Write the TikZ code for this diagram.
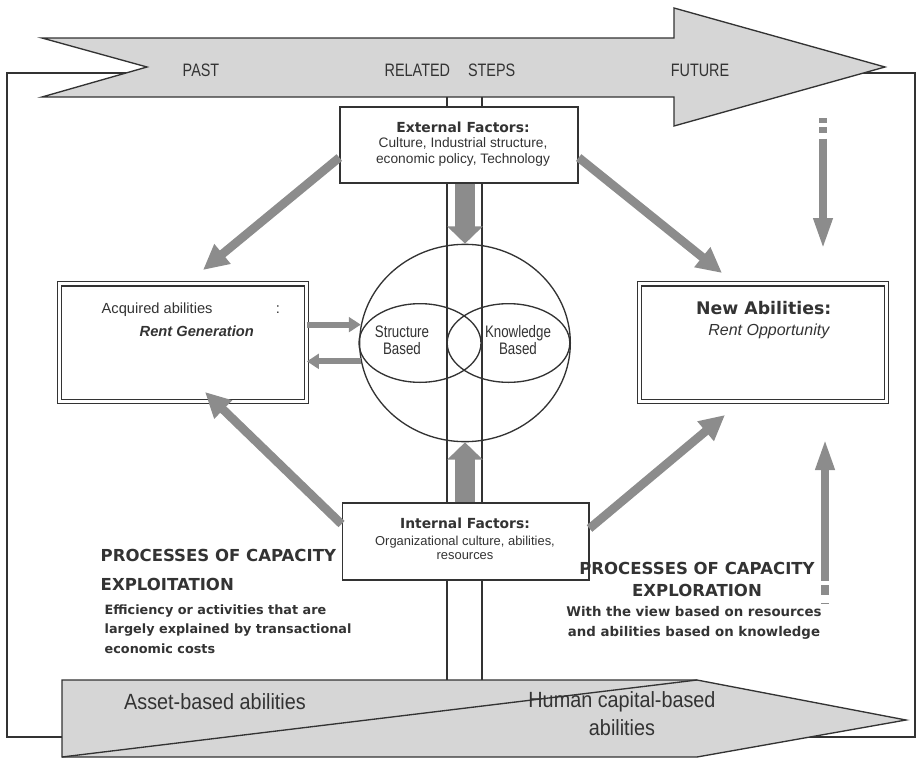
\documentclass[tikz,border=0pt]{standalone}
\usepackage{fontspec}
\setmainfont{Liberation Sans}
\newfontfamily\vfont{DejaVu Sans}
\newfontfamily\nfont[FakeStretch=0.8]{Liberation Sans}
\newfontfamily\wfont[FakeStretch=0.9]{Liberation Sans}
\usetikzlibrary{shapes.geometric,arrows.meta}
\definecolor{linegray}{HTML}{333333}
\definecolor{bandgray}{HTML}{D6D6D6}
\definecolor{arrowgray}{HTML}{8C8C8C}
\tikzset{
  every node/.style={text=linegray},
  band/.style={draw=linegray,line width=1pt,fill=bandgray},
  box/.style={draw=linegray,line width=1pt,fill=white,inner sep=0pt},
  dbox/.style={draw=linegray,double,double distance=2.4pt,line width=0.8pt,fill=white,inner sep=0pt,minimum width=185pt,minimum height=88pt},
  fat/.style={draw=arrowgray,line width=6.5pt,-{Triangle[length=19pt,width=18pt]}},
  slim/.style={draw=arrowgray,line width=4.5pt,-{Triangle[length=9pt,width=11pt]}},
  colarrow/.style={draw=arrowgray,line width=15pt,-{Triangle[length=13pt,width=26pt]}},
  vert/.style={draw=arrowgray,line width=6pt,-{Triangle[length=24pt,width=13pt]}},
  tail/.style={draw=arrowgray,line width=6pt},
  bandlabel/.style={font=\nfont\fontsize{13.5}{15}\selectfont},
}
\begin{document}
\begin{tikzpicture}[x=0.75pt,y=-0.75pt]
\useasboundingbox (0,0) rectangle (921,760);
% frame and the two bands
\draw[linegray,line width=1pt](7,73) rectangle (915,737);
\draw[band](42,38)--(674,38)--(674,8)--(885,67)--(674,126)--(674,97)--(42,97)--(147,67)--cycle;
\draw[band](62,680)--(697,680)--(906,720)--(697,757)--(62,757)--cycle;
\draw[linegray,line width=1pt](62,757)--(697,680);
\node[bandlabel] (past) at (201,70){PAST};
\node[bandlabel] (steps) at (450,70){RELATED\quad STEPS};
\node[bandlabel] (future) at (700,70){FUTURE};
\node[font=\wfont\fontsize{16.5}{21}\selectfont] (asset) at (215,702){Asset-based abilities};
\node[align=center,font=\wfont\fontsize{16.5}{21}\selectfont] (human) at (622,714){Human capital-based\\abilities};
% column
\foreach \x in {447,482}{\draw[linegray,line width=0.9pt](\x,97)--(\x,680);}
% boxes
\node[box,minimum width=178.5pt,minimum height=57pt] (ext) at (459,145){};
\node[font=\vfont\bfseries\fontsize{10.4}{12}\selectfont] (exttitle) at (463,127){External Factors:};
\node[align=center,font=\fontsize{10.3}{11.4}\selectfont] (exttext) at (463,152){Culture, Industrial structure,\\economic policy, Technology};
\node[box,minimum width=185pt,minimum height=57.75pt] (int) at (465.5,541.5){};
\node[font=\vfont\bfseries\fontsize{10.4}{12}\selectfont] (inttitle) at (465,523){Internal Factors:};
\node[align=center,font=\fontsize{9.7}{10.5}\selectfont] (inttext) at (465,548){Organizational culture, abilities,\\resources};
\node[dbox] (acq) at (183,342.5){};
\node[anchor=west,font=\fontsize{11}{13}\selectfont] (acqtitle) at (97,310){Acquired abilities};
\node[font=\fontsize{11}{13}\selectfont] (acqcolon) at (278,310){:};
\node[anchor=west,font=\bfseries\itshape\fontsize{11}{13}\selectfont] (rentgen) at (135,331){Rent Generation};
\node[dbox] (new) at (763,342.5){};
\node[anchor=east,font=\vfont\bfseries\fontsize{13}{15}\selectfont] (newtitle) at (836,308){New Abilities:};
\node[anchor=east,font=\itshape\fontsize{12}{14}\selectfont] (rentopp) at (834,331){Rent Opportunity};
% sphere with the two bases
\node[draw=linegray,line width=1pt,ellipse,minimum width=158pt,minimum height=148pt,inner sep=0pt] (core) at (465,343){};
\node[draw=linegray,line width=1pt,ellipse,minimum width=91.5pt,minimum height=59pt,inner sep=0pt] (lell) at (420,343){};
\node[draw=linegray,line width=1pt,ellipse,minimum width=92pt,minimum height=59pt,inner sep=0pt] (rell) at (508.5,343){};
\node[align=center,font=\nfont\fontsize{12.5}{13}\selectfont] (struct) at (402,340){Structure\\Based};
\node[align=center,font=\nfont\fontsize{12.5}{13}\selectfont] (know) at (518,340){Knowledge\\Based};
% arrows
\coordinate (acqtop) at (203,270);
\coordinate (newtop) at (722,273);
\coordinate (acqbot) at (205,392);
\coordinate (newbot) at (725,415);
\draw[fat](ext.186)--(acqtop);
\draw[fat](ext.354)--(newtop);
\draw[fat](int.172)--(acqbot);
\draw[fat](int.6)--(newbot);
\draw[slim](acq.east |- core.170)--(core.170);
\draw[slim](core.190)--(acq.east |- core.190);
\draw[colarrow](ext.south -| core.north)--(core.north);
\draw[colarrow](int.north -| core.south)--(core.south);
\coordinate (downtail) at (823,139);
\coordinate (downtip) at (823,250);
\coordinate (uptail) at (825,577);
\coordinate (uptip) at (825,438);
\draw[vert](downtail)--(downtip);
\draw[vert](uptail)--(uptip);
\draw[tail,dash pattern=on 4pt off 3pt on 4.5pt off 4pt](823,118)--(downtail);
\draw[tail,dash pattern=on 3pt off 3pt on 7.5pt off 6pt on 2.5pt off 9pt](uptail)--(825,604);
% texts below
\node[anchor=west,align=left,font=\vfont\bfseries\fontsize{12.4}{21.5}\selectfont] (exploit) at (96,570){PROCESSES OF CAPACITY\\EXPLOITATION};
\node[anchor=west,align=left,font=\vfont\bfseries\fontsize{9.6}{14.6}\selectfont] (exploittext) at (100,629){Efficiency or activities that are\\largely explained by transactional\\economic costs};
\node[align=center,font=\vfont\bfseries\fontsize{12.4}{16.5}\selectfont] (explore) at (697,579){PROCESSES OF CAPACITY\\EXPLORATION};
\node[align=center,font=\vfont\bfseries\fontsize{10}{15}\selectfont] (exploretext) at (694,623){With the view based on resources\\and abilities based on knowledge};
\end{tikzpicture}
\end{document}
